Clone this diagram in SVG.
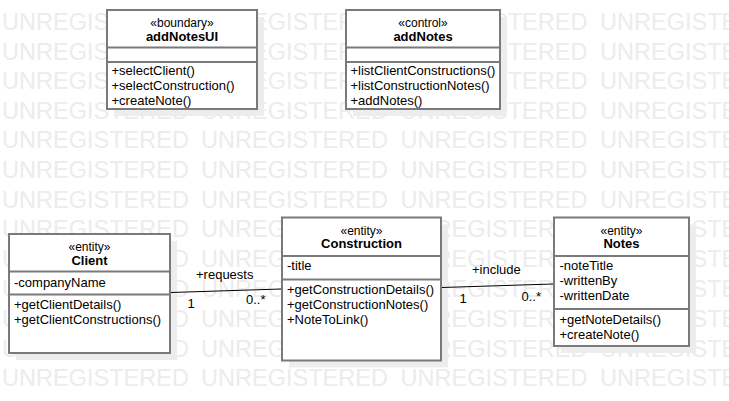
<svg xmlns="http://www.w3.org/2000/svg" width="729" height="401" viewBox="0 0 729 401">
<style>
text{font-family:"Liberation Sans",Arial,sans-serif;fill:#000}
.wm text{font-size:23px;fill:#ececec}
.box{fill:#fff;stroke:#7a7a7a;stroke-width:2}
.shadow{fill:#ededed}
.sep{stroke:#7a7a7a;stroke-width:2}
.st{font-size:12px;text-anchor:middle}
.nm{font-size:13px;font-weight:bold;text-anchor:middle}
.mb{font-size:13px}
.lbl{font-size:13px}
.conn{stroke:#000;stroke-width:1;fill:none}
</style>
<rect width="729" height="401" fill="#fff"/>
<g class="wm">
<text x="2" y="30" textLength="187" lengthAdjust="spacingAndGlyphs">UNREGISTERED</text><text x="201" y="30" textLength="187" lengthAdjust="spacingAndGlyphs">UNREGISTERED</text><text x="400.5" y="30" textLength="187" lengthAdjust="spacingAndGlyphs">UNREGISTERED</text><text x="600" y="30" textLength="187" lengthAdjust="spacingAndGlyphs">UNREGISTERED</text>
<text x="2" y="59.5" textLength="187" lengthAdjust="spacingAndGlyphs">UNREGISTERED</text><text x="201" y="59.5" textLength="187" lengthAdjust="spacingAndGlyphs">UNREGISTERED</text><text x="400.5" y="59.5" textLength="187" lengthAdjust="spacingAndGlyphs">UNREGISTERED</text><text x="600" y="59.5" textLength="187" lengthAdjust="spacingAndGlyphs">UNREGISTERED</text>
<text x="2" y="89" textLength="187" lengthAdjust="spacingAndGlyphs">UNREGISTERED</text><text x="201" y="89" textLength="187" lengthAdjust="spacingAndGlyphs">UNREGISTERED</text><text x="400.5" y="89" textLength="187" lengthAdjust="spacingAndGlyphs">UNREGISTERED</text><text x="600" y="89" textLength="187" lengthAdjust="spacingAndGlyphs">UNREGISTERED</text>
<text x="2" y="118.5" textLength="187" lengthAdjust="spacingAndGlyphs">UNREGISTERED</text><text x="201" y="118.5" textLength="187" lengthAdjust="spacingAndGlyphs">UNREGISTERED</text><text x="400.5" y="118.5" textLength="187" lengthAdjust="spacingAndGlyphs">UNREGISTERED</text><text x="600" y="118.5" textLength="187" lengthAdjust="spacingAndGlyphs">UNREGISTERED</text>
<text x="2" y="148" textLength="187" lengthAdjust="spacingAndGlyphs">UNREGISTERED</text><text x="201" y="148" textLength="187" lengthAdjust="spacingAndGlyphs">UNREGISTERED</text><text x="400.5" y="148" textLength="187" lengthAdjust="spacingAndGlyphs">UNREGISTERED</text><text x="600" y="148" textLength="187" lengthAdjust="spacingAndGlyphs">UNREGISTERED</text>
<text x="2" y="178" textLength="187" lengthAdjust="spacingAndGlyphs">UNREGISTERED</text><text x="201" y="178" textLength="187" lengthAdjust="spacingAndGlyphs">UNREGISTERED</text><text x="400.5" y="178" textLength="187" lengthAdjust="spacingAndGlyphs">UNREGISTERED</text><text x="600" y="178" textLength="187" lengthAdjust="spacingAndGlyphs">UNREGISTERED</text>
<text x="2" y="207.5" textLength="187" lengthAdjust="spacingAndGlyphs">UNREGISTERED</text><text x="201" y="207.5" textLength="187" lengthAdjust="spacingAndGlyphs">UNREGISTERED</text><text x="400.5" y="207.5" textLength="187" lengthAdjust="spacingAndGlyphs">UNREGISTERED</text><text x="600" y="207.5" textLength="187" lengthAdjust="spacingAndGlyphs">UNREGISTERED</text>
<text x="2" y="237" textLength="187" lengthAdjust="spacingAndGlyphs">UNREGISTERED</text><text x="201" y="237" textLength="187" lengthAdjust="spacingAndGlyphs">UNREGISTERED</text><text x="400.5" y="237" textLength="187" lengthAdjust="spacingAndGlyphs">UNREGISTERED</text><text x="600" y="237" textLength="187" lengthAdjust="spacingAndGlyphs">UNREGISTERED</text>
<text x="2" y="267" textLength="187" lengthAdjust="spacingAndGlyphs">UNREGISTERED</text><text x="201" y="267" textLength="187" lengthAdjust="spacingAndGlyphs">UNREGISTERED</text><text x="400.5" y="267" textLength="187" lengthAdjust="spacingAndGlyphs">UNREGISTERED</text><text x="600" y="267" textLength="187" lengthAdjust="spacingAndGlyphs">UNREGISTERED</text>
<text x="2" y="297" textLength="187" lengthAdjust="spacingAndGlyphs">UNREGISTERED</text><text x="201" y="297" textLength="187" lengthAdjust="spacingAndGlyphs">UNREGISTERED</text><text x="400.5" y="297" textLength="187" lengthAdjust="spacingAndGlyphs">UNREGISTERED</text><text x="600" y="297" textLength="187" lengthAdjust="spacingAndGlyphs">UNREGISTERED</text>
<text x="2" y="327" textLength="187" lengthAdjust="spacingAndGlyphs">UNREGISTERED</text><text x="201" y="327" textLength="187" lengthAdjust="spacingAndGlyphs">UNREGISTERED</text><text x="400.5" y="327" textLength="187" lengthAdjust="spacingAndGlyphs">UNREGISTERED</text><text x="600" y="327" textLength="187" lengthAdjust="spacingAndGlyphs">UNREGISTERED</text>
<text x="2" y="356.5" textLength="187" lengthAdjust="spacingAndGlyphs">UNREGISTERED</text><text x="201" y="356.5" textLength="187" lengthAdjust="spacingAndGlyphs">UNREGISTERED</text><text x="400.5" y="356.5" textLength="187" lengthAdjust="spacingAndGlyphs">UNREGISTERED</text><text x="600" y="356.5" textLength="187" lengthAdjust="spacingAndGlyphs">UNREGISTERED</text>
<text x="2" y="386" textLength="187" lengthAdjust="spacingAndGlyphs">UNREGISTERED</text><text x="201" y="386" textLength="187" lengthAdjust="spacingAndGlyphs">UNREGISTERED</text><text x="400.5" y="386" textLength="187" lengthAdjust="spacingAndGlyphs">UNREGISTERED</text><text x="600" y="386" textLength="187" lengthAdjust="spacingAndGlyphs">UNREGISTERED</text>
</g>
<g id="addNotesUI">
<rect class="shadow" x="114" y="17" width="150" height="99"/>
<rect class="box" x="107" y="10" width="150" height="99"/>
<line class="sep" x1="107" y1="47.5" x2="257" y2="47.5"/>
<line class="sep" x1="107" y1="62" x2="257" y2="62"/>
<text class="st" x="182" y="27">«boundary»</text>
<text class="nm" x="182" y="40.5">addNotesUI</text>
<text class="mb" x="111.5" y="74.5">+selectClient()</text>
<text class="mb" x="111.5" y="89.5">+selectConstruction()</text>
<text class="mb" x="111.5" y="104.5">+createNote()</text>
</g>
<g id="addNotes">
<rect class="shadow" x="353" y="17" width="154" height="99"/>
<rect class="box" x="346" y="10" width="154" height="99"/>
<line class="sep" x1="346" y1="47.5" x2="500" y2="47.5"/>
<line class="sep" x1="346" y1="62" x2="500" y2="62"/>
<text class="st" x="423" y="27">«control»</text>
<text class="nm" x="423" y="40.5">addNotes</text>
<text class="mb" x="350.5" y="74.5">+listClientConstructions()</text>
<text class="mb" x="350.5" y="89.5">+listConstructionNotes()</text>
<text class="mb" x="350.5" y="104.5">+addNotes()</text>
</g>
<g id="Client">
<rect class="shadow" x="16" y="241" width="161" height="119"/>
<rect class="box" x="9" y="234" width="161" height="119"/>
<line class="sep" x1="9" y1="271.5" x2="170" y2="271.5"/>
<line class="sep" x1="9" y1="294.5" x2="170" y2="294.5"/>
<text class="st" x="89.5" y="251">«entity»</text>
<text class="nm" x="89.5" y="264.5">Client</text>
<text class="mb" x="14" y="287">-companyName</text>
<text class="mb" x="14" y="309">+getClientDetails()</text>
<text class="mb" x="14" y="324">+getClientConstructions()</text>
</g>
<g id="Construction">
<rect class="shadow" x="289" y="224.5" width="159" height="143"/>
<rect class="box" x="282" y="217.5" width="159" height="143"/>
<line class="sep" x1="282" y1="256" x2="441" y2="256"/>
<line class="sep" x1="282" y1="279.5" x2="441" y2="279.5"/>
<text class="st" x="361.5" y="235">«entity»</text>
<text class="nm" x="361.5" y="248">Construction</text>
<text class="mb" x="287" y="270">-title</text>
<text class="mb" x="287" y="294">+getConstructionDetails()</text>
<text class="mb" x="287" y="309">+getConstructionNotes()</text>
<text class="mb" x="287" y="324">+NoteToLink()</text>
</g>
<g id="Notes">
<rect class="shadow" x="561" y="224.5" width="135" height="128.5"/>
<rect class="box" x="554" y="217.5" width="135" height="128.5"/>
<line class="sep" x1="554" y1="256" x2="689" y2="256"/>
<line class="sep" x1="554" y1="309" x2="689" y2="309"/>
<text class="st" x="621.5" y="235">«entity»</text>
<text class="nm" x="621.5" y="248">Notes</text>
<text class="mb" x="559.5" y="270">-noteTitle</text>
<text class="mb" x="559.5" y="285">-writtenBy</text>
<text class="mb" x="559.5" y="300">-writtenDate</text>
<text class="mb" x="559.5" y="323.5">+getNoteDetails()</text>
<text class="mb" x="559.5" y="338.5">+createNote()</text>
</g>
<g id="connectors">
<line class="conn" x1="171" y1="292.5" x2="281" y2="289"/>
<text class="lbl" x="196" y="279">+requests</text>
<text class="lbl" x="187.5" y="308">1</text>
<text class="lbl" x="246" y="304">0..*</text>
<line class="conn" x1="442" y1="287.5" x2="553" y2="284"/>
<text class="lbl" x="472" y="274">+include</text>
<text class="lbl" x="459.5" y="303">1</text>
<text class="lbl" x="521.5" y="301">0..*</text>
</g>
</svg>
